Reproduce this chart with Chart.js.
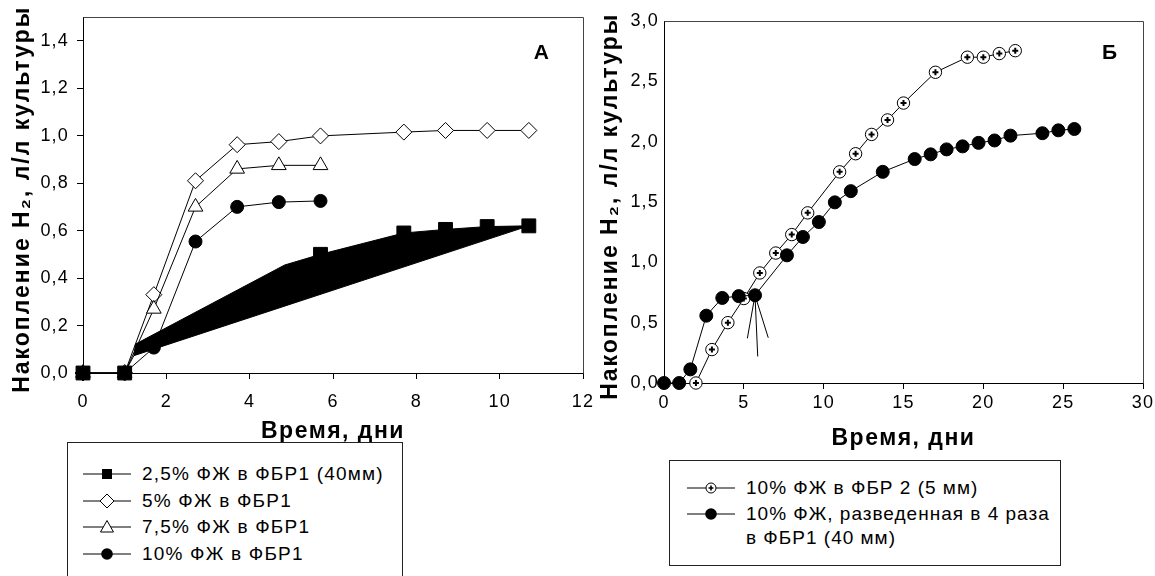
<!DOCTYPE html>
<html><head><meta charset="utf-8">
<script src="https://cdn.jsdelivr.net/npm/chart.js@4"></script>
<style>
body{margin:0;background:#fff;width:1155px;height:576px;overflow:hidden;position:relative;font-family:'Liberation Sans',Arial,sans-serif;}
canvas{position:absolute;}
.legend{position:absolute;border:1px solid #222;background:#fff;box-sizing:border-box;overflow:hidden;}
.item{position:absolute;height:24px;line-height:24px;font-size:19px;letter-spacing:1.2px;color:#000;white-space:nowrap;}
#legB .item{letter-spacing:1px;}
.icon{position:absolute;width:48px;height:18px;}
</style></head><body>
<canvas id="cA" width="600" height="460" style="left:0;top:0;width:600px;height:460px"></canvas>
<canvas id="cB" width="565" height="470" style="left:590px;top:0;width:565px;height:470px"></canvas>
<div id="legA" class="legend" style="left:67px;top:442px;width:336px;height:140px"></div>
<div id="legB" class="legend" style="left:669px;top:460px;width:392px;height:106px"></div>
<script>
// ---------- Chart A data ----------
const daysA25 = [0, 1, 5.7, 7.7, 8.7, 9.7, 10.7];
const h2A25   = [0, 0, 0.50, 0.59, 0.605, 0.617, 0.62];
// black smear (artefact of original figure) along the 2.5% curve
const smearTopX = [1.22, 1.26, 4.84];
const smearTopY = [0.073, 0.122, 0.455];
const smearBottomX = [1.22, 10.7];
const smearBottomY = [0.073, 0.62];

const daysA5 = [0, 1, 1.7, 2.7, 3.7, 4.7, 5.7, 7.7, 8.7, 9.7, 10.7];
const h2A5   = [0, 0, 0.33, 0.81, 0.962, 0.975, 0.999, 1.015, 1.022, 1.022, 1.022];
const daysA75 = [0, 1, 1.7, 2.7, 3.7, 4.7, 5.7];
const h2A75   = [0, 0, 0.27, 0.70, 0.86, 0.875, 0.875];
const daysA10 = [0, 1, 1.7, 2.7, 3.7, 4.7, 5.7];
const h2A10   = [0, 0, 0.107, 0.554, 0.70, 0.72, 0.725];

const ticksAx = [0, 2, 4, 6, 8, 10, 12];
const ticksAy = [0, 0.2, 0.4, 0.6, 0.8, 1.0, 1.2, 1.4];

// ---------- Chart B data ----------
const daysB5mm = [2, 3, 4, 5, 6, 7, 8, 9, 11, 12, 13, 14, 15, 17, 19, 20, 21, 22];
const h2B5mm   = [0, 0.277, 0.50, 0.70, 0.912, 1.077, 1.23, 1.41, 1.75, 1.90, 2.06, 2.18, 2.32, 2.575, 2.70, 2.70, 2.73, 2.754];
const daysB40 = [0, 0.95, 1.65, 2.65, 3.65, 4.68, 5.7, 7.7, 8.7, 9.7, 10.7, 11.7, 13.7, 15.7, 16.7, 17.7, 18.7, 19.7, 20.7, 21.7, 23.7, 24.7, 25.7];
const h2B40   = [0, 0, 0.113, 0.558, 0.705, 0.72, 0.727, 1.058, 1.21, 1.334, 1.497, 1.59, 1.75, 1.856, 1.895, 1.936, 1.961, 1.99, 2.01, 2.05, 2.07, 2.094, 2.105];
// arrow pointing at the 5.7-day point
const arrowHeadX = [5.22, 5.7, 6.53];
const arrowHeadY = [0.37, 0.727, 0.375];
const arrowShaftX = [5.7, 5.87];
const arrowShaftY = [0.727, 0.22];

const ticksBx = [0, 5, 10, 15, 20, 25, 30];
const ticksBy = [0, 0.5, 1.0, 1.5, 2.0, 2.5, 3.0];

const labelsA = ['2,5% ФЖ в ФБР1 (40мм)', '5% ФЖ в ФБР1', '7,5% ФЖ в ФБР1', '10% ФЖ в ФБР1'];
const labelsB = ['10% ФЖ в ФБР 2 (5 мм)', '10% ФЖ, разведенная в 4 раза', 'в ФБР1 (40 мм)'];
const yTitle = 'Накопление H₂, л/л культуры ';
const xTitle = 'Время, дни';

// ---------- helpers ----------
const FAM = "'Liberation Sans', Arial, sans-serif";
const pts = (xs, ys, extra) => xs.map((x, i) => Object.assign({x, y: ys[i]}, extra || {}));
const fmt1 = v => (Math.round(v * 10) / 10).toFixed(1).replace('.', ',');

const framePlugin = {
  id: 'frame',
  beforeDatasetsDraw(chart) {
    const {ctx, chartArea: a} = chart;
    ctx.save();
    ctx.strokeStyle = '#444'; ctx.lineWidth = 1;
    ctx.beginPath();
    const L = Math.round(a.left) + 0.5, T = Math.round(a.top) + 0.5, R = Math.round(a.right) + 0.5, B = Math.round(a.bottom) + 0.5;
    ctx.moveTo(L, T); ctx.lineTo(R, T); ctx.lineTo(R, B);
    ctx.stroke();
    ctx.restore();
  },
  afterDraw(chart, args, opts) {
    if (!opts.label) return;
    const {ctx} = chart;
    ctx.save();
    ctx.letterSpacing = '0px';
    ctx.font = 'bold 21px ' + FAM; ctx.fillStyle = '#000';
    ctx.textAlign = 'center'; ctx.textBaseline = 'middle';
    ctx.fillText(opts.label, chart.scales.x.getPixelForValue(opts.lx), chart.scales.y.getPixelForValue(opts.ly));
    ctx.restore();
  }
};

function withSpacing(fn, ls) {
  return function() {
    const c = this.ctx; const prev = c.letterSpacing;
    c.letterSpacing = ls; fn.apply(this, arguments); c.letterSpacing = prev;
  };
}

function axis(opts) {
  return {
    type: 'linear', min: opts.min, max: opts.max, position: opts.position,
    afterBuildTicks: s => { s.ticks = opts.ticks.map(v => ({value: v})); },
    ticks: {color: '#000', font: {size: 18, family: FAM}, padding: opts.pad, maxRotation: 0, autoSkip: false,
            callback: opts.fmt},
    grid: {display: true, drawOnChartArea: false, drawTicks: opts.tickLen > 0, tickLength: opts.tickLen, color: '#000'},
    border: {display: true, color: '#000', width: 1},
    title: {display: true, text: opts.title, color: '#000', font: {size: 23, weight: 'bold', family: FAM}, padding: opts.titlePad},
    afterFit: s => {
      if (opts.size.w) s.width = opts.size.w;
      if (opts.size.h) s.height = opts.size.h;
      s.paddingLeft = 0; s.paddingRight = 0; s.paddingTop = 0; s.paddingBottom = 0;
      if (!Object.prototype.hasOwnProperty.call(s, 'drawTitle')) {
        s.drawTitle = withSpacing(Object.getPrototypeOf(s).drawTitle, opts.titleLS);
        s.drawLabels = withSpacing(Object.getPrototypeOf(s).drawLabels, '1.2px');
      }
    }
  };
}

const common = {
  responsive: false, animation: false, devicePixelRatio: 1, events: [],
  plugins: {legend: {display: false}, tooltip: {enabled: false}},
  elements: {line: {tension: 0, borderWidth: 1, borderColor: '#000'}}
};

// ---------- Chart A ----------
const sqMarks = pts(daysA25, h2A25, {m: true});
const sqLine = sqMarks.concat(pts(smearTopX, smearTopY, {m: false})).sort((a, b) => a.x - b.x);

new Chart(document.getElementById('cA'), {
  type: 'scatter',
  data: {datasets: [
    {label: labelsA[3], data: pts(daysA10, h2A10), showLine: true, pointStyle: 'circle', pointRadius: 6.5,
     backgroundColor: '#000', borderColor: '#000', borderWidth: 1, clip: false},
    {label: labelsA[0], data: sqLine, showLine: true, pointStyle: 'rect',
     pointRadius: c => (c.raw && c.raw.m) ? 9.8 : 0,
     backgroundColor: '#000', borderColor: '#000', borderWidth: 1, fill: '+1', clip: false},
    {label: 'smear', data: pts(smearBottomX, smearBottomY), showLine: true, pointRadius: 0,
     borderColor: '#000', borderWidth: 1, clip: false},
    {label: labelsA[2], data: pts(daysA75, h2A75), showLine: true, pointStyle: 'triangle', pointRadius: 8.5,
     backgroundColor: '#fff', borderColor: '#000', borderWidth: 1, clip: false},
    {label: labelsA[1], data: pts(daysA5, h2A5), showLine: true, pointStyle: 'rectRot', pointRadius: 8,
     backgroundColor: '#fff', borderColor: '#000', borderWidth: 1, clip: false}
  ]},
  options: Object.assign({}, common, {
    layout: {padding: {left: 0, top: 17, right: 17, bottom: 0}},
    plugins: Object.assign({}, common.plugins, {frame: {label: 'А', lx: 11.0, ly: 1.348}}),
    scales: {
      x: axis({min: 0, max: 12, position: 'bottom', ticks: ticksAx, pad: 12, tickLen: 6, title: xTitle, titleLS: '1.5px',
               titlePad: {top: 0, bottom: 15}, fmt: v => String(v), size: {h: 87}}),
      y: axis({min: 0, max: 1.5, position: 'left', ticks: ticksAy, pad: 8, tickLen: 6, title: yTitle, titleLS: '2px',
               titlePad: {top: 9, bottom: 0}, fmt: fmt1, size: {w: 83}})
    }
  }),
  plugins: [framePlugin]
});

// ---------- Chart B ----------
new Chart(document.getElementById('cB'), {
  type: 'scatter',
  data: {datasets: [
    {label: labelsB[1], data: pts(daysB40, h2B40), showLine: true, pointStyle: 'circle', pointRadius: 6.5,
     backgroundColor: '#000', borderColor: '#000', borderWidth: 1, clip: false},
    {label: 'arrow head', data: pts(arrowHeadX, arrowHeadY), showLine: true, pointRadius: 0,
     borderColor: '#000', borderWidth: 1, clip: false},
    {label: 'arrow shaft', data: pts(arrowShaftX, arrowShaftY), showLine: true, pointRadius: 0,
     borderColor: '#000', borderWidth: 1, clip: false},
    {label: 'plus', data: pts(daysB5mm, h2B5mm), showLine: false, pointStyle: 'cross', pointRadius: 3,
     borderColor: '#000', borderWidth: 2, clip: false},
    {label: labelsB[0], data: pts(daysB5mm, h2B5mm), showLine: true, pointStyle: 'circle', pointRadius: 6.2,
     backgroundColor: '#fff', borderColor: '#000', borderWidth: 1, clip: false}
  ]},
  options: Object.assign({}, common, {
    layout: {padding: {left: 0, top: 21, right: 12, bottom: 0}},
    plugins: Object.assign({}, common.plugins, {frame: {label: 'Б', lx: 27.9, ly: 2.73}}),
    scales: {
      x: axis({min: 0, max: 30, position: 'bottom', ticks: ticksBx, pad: 3, tickLen: 6, title: xTitle, titleLS: '1.5px',
               titlePad: {top: 0, bottom: 18}, fmt: v => String(v), size: {h: 87}}),
      y: axis({min: 0, max: 3, position: 'left', ticks: ticksBy, pad: 5, tickLen: 0, title: yTitle, titleLS: '2px',
               titlePad: {top: 7, bottom: 0}, fmt: fmt1, size: {w: 74}})
    }
  }),
  plugins: [framePlugin]
});

// ---------- HTML legends ----------
const ICON = {
  square: '<rect x="19" y="4" width="10" height="10" fill="#000"/>',
  diamond: '<polygon points="24,2 31,9 24,16 17,9" fill="#fff" stroke="#000" stroke-width="1"/>',
  triangle: '<polygon points="24,2.5 30.5,14 17.5,14" fill="#fff" stroke="#000" stroke-width="1"/>',
  circle: '<circle cx="24" cy="9" r="5.8" fill="#000"/>',
  plus: '<circle cx="24" cy="9" r="5" fill="#fff" stroke="#000" stroke-width="1"/><path d="M21.6 9H26.4M24 6.6V11.4" stroke="#000" stroke-width="1.6"/>'
};
function addItem(box, iconKey, text, iconLeft, textLeft, cy) {
  if (iconKey) {
    const s = document.createElementNS('http://www.w3.org/2000/svg', 'svg');
    s.setAttribute('class', 'icon'); s.setAttribute('viewBox', '0 0 48 18');
    s.style.left = iconLeft + 'px'; s.style.top = (cy - 9) + 'px';
    s.innerHTML = '<line x1="0" y1="9" x2="48" y2="9" stroke="#000" stroke-width="1"/>' + ICON[iconKey];
    box.appendChild(s);
  }
  const d = document.createElement('div');
  d.className = 'item'; d.textContent = text;
  d.style.left = textLeft + 'px'; d.style.top = (cy - 12) + 'px';
  box.appendChild(d);
}
const legA = document.getElementById('legA');
const iconsA = ['square', 'diamond', 'triangle', 'circle'];
labelsA.forEach((t, i) => addItem(legA, iconsA[i], t, 15, 74, 31 + i * 26.7));
const legB = document.getElementById('legB');
addItem(legB, 'plus', labelsB[0], 17, 76, 27);
addItem(legB, 'circle', labelsB[1], 17, 76, 53);
addItem(legB, null, labelsB[2], 17, 76, 77);
</script>
</body></html>
